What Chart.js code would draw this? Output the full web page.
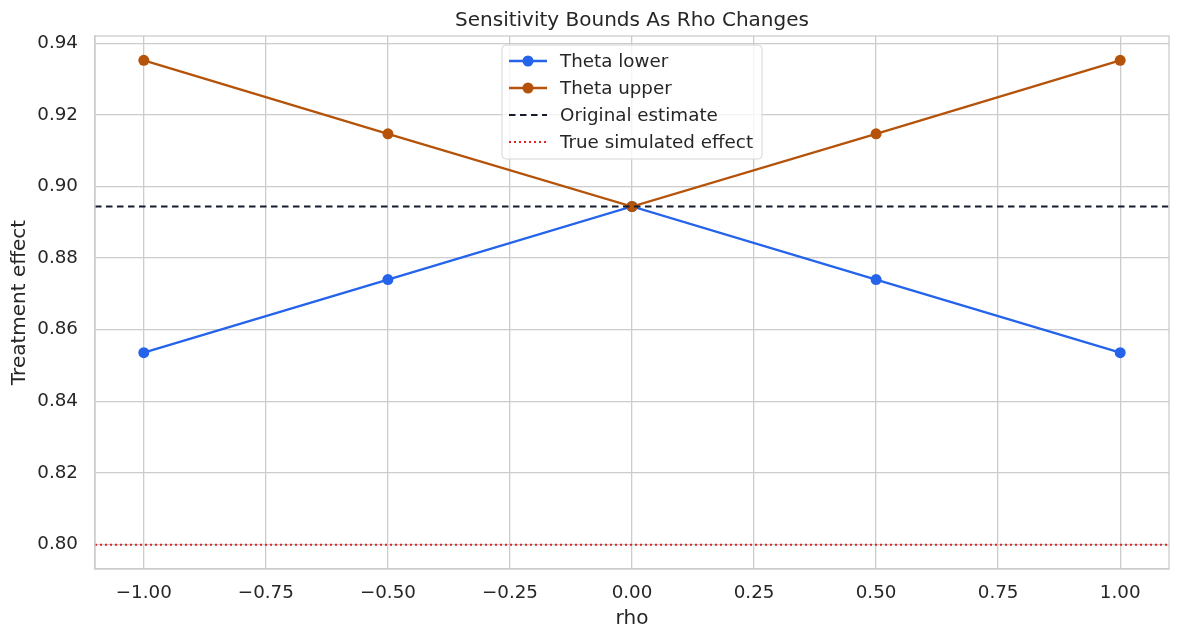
<!DOCTYPE html>
<html>
<head>
<meta charset="utf-8">
<script src="https://cdn.jsdelivr.net/npm/chart.js@4/dist/chart.umd.min.js"></script>
<style>
html,body{margin:0;padding:0;background:#fff;}
#wrap{width:1180px;height:640px;}
</style>
</head>
<body>
<div id="wrap"><canvas id="c" width="1180" height="640"></canvas></div>
<script>
const rho = [-1.0, -0.5, 0.0, 0.5, 1.0];
const thetaLower = [0.8536, 0.8740, 0.8944, 0.8740, 0.8536];
const thetaUpper = [0.9352, 0.9147, 0.8944, 0.9147, 0.9352];
const originalEstimate = 0.8944;
const trueEffect = 0.80;
const xRange = [-1.1, 1.1];
const yRange = [0.7932, 0.9420];
const xTicks = [-1.0, -0.75, -0.5, -0.25, 0.0, 0.25, 0.5, 0.75, 1.0];
const yTicks = [0.80, 0.82, 0.84, 0.86, 0.88, 0.90, 0.92, 0.94];
const chartTitle = 'Sensitivity Bounds As Rho Changes';

const FONT = "'DejaVu Sans', sans-serif";
const TXT = '#262626';
const GRID = '#cccccc';
const TICK_SIZE = 18.3;
const LABEL_SIZE = 20;

function fmt(v){ return v.toFixed(2).replace('-', '\u2212'); }

const legendPlugin = {
  id: 'mplLegend',
  afterDatasetsDraw(chart){
    const ctx = chart.ctx;
    const x0 = 502, y0 = 45, w = 260, h = 114, r = 4;
    ctx.save();
    ctx.beginPath();
    ctx.moveTo(x0+r, y0);
    ctx.arcTo(x0+w, y0, x0+w, y0+h, r);
    ctx.arcTo(x0+w, y0+h, x0, y0+h, r);
    ctx.arcTo(x0, y0+h, x0, y0, r);
    ctx.arcTo(x0, y0, x0+w, y0, r);
    ctx.closePath();
    ctx.fillStyle = 'rgba(255,255,255,0.8)';
    ctx.fill();
    ctx.strokeStyle = '#d6d6d6';
    ctx.lineWidth = 1;
    ctx.stroke();
    const rows = [61, 88, 115, 142];
    chart.data.datasets.forEach((ds, i) => {
      const y = rows[i];
      ctx.beginPath();
      ctx.setLineDash(ds.borderDash || []);
      ctx.strokeStyle = ds.borderColor;
      ctx.lineWidth = ds.borderWidth;
      ctx.moveTo(509, y);
      ctx.lineTo(547, y);
      ctx.stroke();
      ctx.setLineDash([]);
      if (ds.pointRadius > 0) {
        ctx.beginPath();
        ctx.arc(528, y, ds.pointRadius, 0, Math.PI*2);
        ctx.fillStyle = ds.pointBackgroundColor;
        ctx.fill();
      }
      ctx.fillStyle = TXT;
      ctx.font = TICK_SIZE + 'px ' + FONT;
      ctx.textBaseline = 'middle';
      ctx.textAlign = 'left';
      ctx.fillText(ds.label, 560, y + 1);
    });
    ctx.restore();
  }
};

const titlePlugin = {
  id: 'axesTitle',
  afterDraw(chart){
    const a = chart.chartArea, ctx = chart.ctx;
    ctx.save();
    ctx.fillStyle = TXT;
    ctx.font = LABEL_SIZE + 'px ' + FONT;
    ctx.textAlign = 'center';
    ctx.textBaseline = 'middle';
    ctx.fillText(chartTitle, (a.left + a.right) / 2, 21);
    ctx.restore();
  }
};

new Chart(document.getElementById('c'), {
  type: 'scatter',
  data: {
    datasets: [
      {
        label: 'Theta lower',
        data: rho.map((x, i) => ({x, y: thetaLower[i]})),
        showLine: true,
        borderColor: '#2563eb',
        backgroundColor: '#2563eb',
        pointBackgroundColor: '#2563eb',
        pointBorderWidth: 0,
        borderWidth: 2.3,
        pointRadius: 5.5,
        pointHoverRadius: 5.5,
        order: 2
      },
      {
        label: 'Theta upper',
        data: rho.map((x, i) => ({x, y: thetaUpper[i]})),
        showLine: true,
        borderColor: '#b45309',
        backgroundColor: '#b45309',
        pointBackgroundColor: '#b45309',
        pointBorderWidth: 0,
        borderWidth: 2.3,
        pointRadius: 5.5,
        pointHoverRadius: 5.5,
        order: 1
      },
      {
        label: 'Original estimate',
        data: xRange.map(x => ({x, y: originalEstimate})),
        showLine: true,
        borderColor: '#161b2e',
        backgroundColor: '#161b2e',
        borderWidth: 1.9,
        borderDash: [6.5, 4.5],
        pointRadius: 0,
        order: 0
      },
      {
        label: 'True simulated effect',
        data: xRange.map(x => ({x, y: trueEffect})),
        showLine: true,
        borderColor: '#dc2626',
        backgroundColor: '#dc2626',
        borderWidth: 2,
        borderDash: [2, 3],
        pointRadius: 0,
        order: 3
      }
    ]
  },
  options: {
    responsive: false,
    animation: false,
    devicePixelRatio: 1,
    layout: { padding: { left: 0, right: 11, top: 36, bottom: 0 } },
    plugins: {
      legend: { display: false },
      tooltip: { enabled: false },
      title: { display: false }
    },
    scales: {
      x: {
        type: 'linear',
        min: xRange[0], max: xRange[1],
        afterFit(s){ s.height = 71; },
        afterBuildTicks(s){ s.ticks = xTicks.map(v => ({value: v})); },
        ticks: { color: TXT, font: { family: FONT, size: TICK_SIZE }, padding: 13, autoSkip: false, maxRotation: 0, callback: v => fmt(v) },
        grid: { color: GRID, lineWidth: 1.3, drawTicks: false },
        border: { color: GRID, width: 1.3 },
        title: { display: true, text: 'rho', color: TXT, font: { family: FONT, size: LABEL_SIZE, lineHeight: 1.2 }, padding: { top: 0, bottom: 9 } }
      },
      y: {
        type: 'linear',
        min: yRange[0], max: yRange[1],
        afterFit(s){ s.width = 95; },
        afterBuildTicks(s){ s.ticks = yTicks.map(v => ({value: v})); },
        ticks: { color: TXT, font: { family: FONT, size: TICK_SIZE }, padding: 17, autoSkip: false, callback: v => fmt(v) },
        grid: { color: GRID, lineWidth: 1.3, drawTicks: false },
        border: { color: GRID, width: 1.3 },
        title: { display: true, text: 'Treatment effect', color: TXT, font: { family: FONT, size: LABEL_SIZE, lineHeight: 1.2 }, padding: { top: 8, bottom: 0 } }
      }
    }
  },
  plugins: [legendPlugin, titlePlugin, {
    id: 'frame',
    afterDraw(chart){
      const a = chart.chartArea, ctx = chart.ctx;
      ctx.save();
      ctx.strokeStyle = GRID; ctx.lineWidth = 1.3;
      ctx.strokeRect(a.left, a.top, a.right - a.left, a.bottom - a.top);
      ctx.restore();
    }
  }]
});
</script>
</body>
</html>
